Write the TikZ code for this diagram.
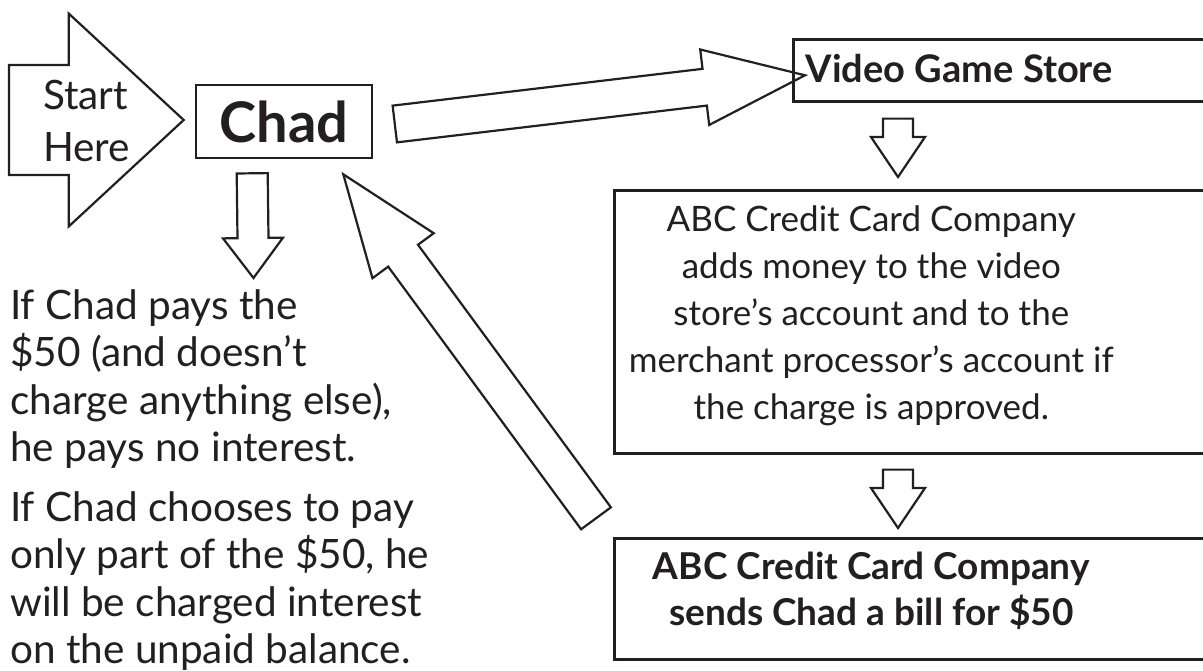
\documentclass[tikz,border=0pt]{standalone}
\usepackage{fontspec}
\setmainfont{Lato}
\usetikzlibrary{calc}
\definecolor{ink}{RGB}{35,31,32}
\newcommand{\bodyfont}{\fontsize{40.5}{47.5}\selectfont}
\newcommand{\boxfont}{\fontsize{35}{47}\selectfont}
% width, lift, text
\newcommand{\boxtext}[3]{\raisebox{#2}[\height][\depth]{\parbox{#1}{\centering #3}}\hspace*{160pt}}
% block arrow: tail, tip, half shaft, half head, head length
\newcommand{\blockarrow}[5]{%
  \path (#1) coordinate (ba-t) (#2) coordinate (ba-h);
  \path ($(ba-h)!#5!(ba-t)$) coordinate (ba-b);
  \draw[blockline] ($(ba-t)!#3!90:(ba-h)$) -- ($(ba-b)!#3!-90:(ba-t)$)
    -- ($(ba-b)!#4!-90:(ba-t)$) -- (ba-h) -- ($(ba-b)!#4!90:(ba-t)$)
    -- ($(ba-b)!#3!90:(ba-t)$) -- ($(ba-t)!#3!-90:(ba-h)$) -- cycle;
}
\begin{document}
\begin{tikzpicture}[
  x=1pt, y=-1pt,
  box/.style={draw=ink, line width=2.6pt, anchor=north west, inner sep=0pt, text=ink},
  bodytext/.style={font=\bodyfont, text=ink, align=left, inner sep=0pt},
  blockline/.style={draw=ink, line width=2.2pt, line join=miter}
]
\useasboundingbox (0,0) rectangle (1203,670);
\clip (0,0) rectangle (1203,670);

\coordinate (begin) at (9,120);
\node[bodytext, anchor=west] (start) at (43,121) {Start\\[5pt]Here};

\node[box, anchor=center, minimum width=176pt, minimum height=73pt,
  font=\fontsize{56}{64}\selectfont\bfseries] (chad) at (284,121.5) {Chad};
\node[bodytext, anchor=north west] (note) at (10,289) {If Chad pays the\\
  \$50 (and doesn’t\\
  charge anything else),\\
  he pays no interest.\\[12pt]
  If Chad chooses to pay\\
  only part of the \$50, he\\
  will be charged interest\\
  on the unpaid balance.};

\node[box, minimum height=62pt, font=\fontsize{38}{46}\selectfont\bfseries] (store) at (792,38)
  {\boxtext{332pt}{2pt}{Video Game Store}};
\node[box, minimum height=263pt, font=\boxfont] (credit) at (613,189)
  {\boxtext{514pt}{6.5pt}{ABC Credit Card Company\\ adds money to the video\\ store’s account and to the\\
  merchant processor’s account if\\ the charge is approved.}};
\node[box, minimum height=121pt, font=\fontsize{37}{46}\selectfont\bfseries] (bill) at (613,537)
  {\boxtext{514pt}{8pt}{ABC Credit Card Company\\ sends Chad a bill for \$50}};

\blockarrow{begin}{$(chad.west)+(-11,-1.5)$}{55pt}{106.5pt}{115pt}
\blockarrow{$(chad.east)+(21.5,2.5)$}{$(store.west)+(13,5)$}{18.5pt}{38pt}{101pt}
\blockarrow{$(store.south west)+(106,16)$}{$(credit.north west)+(285,-12)$}{15pt}{27pt}{40pt}
\blockarrow{$(credit.south west)+(285,15)$}{$(bill.north west)+(285,-9)$}{15pt}{27pt}{40pt}
\blockarrow{$(bill.west)+(-17,-80.5)$}{$(chad.south east)+(-30,15)$}{18.5pt}{38pt}{101pt}
\blockarrow{$(chad.south west)+(57.5,14)$}{$(note.north west)+(243.5,-11)$}{15.5pt}{30pt}{40pt}
\end{tikzpicture}
\end{document}
